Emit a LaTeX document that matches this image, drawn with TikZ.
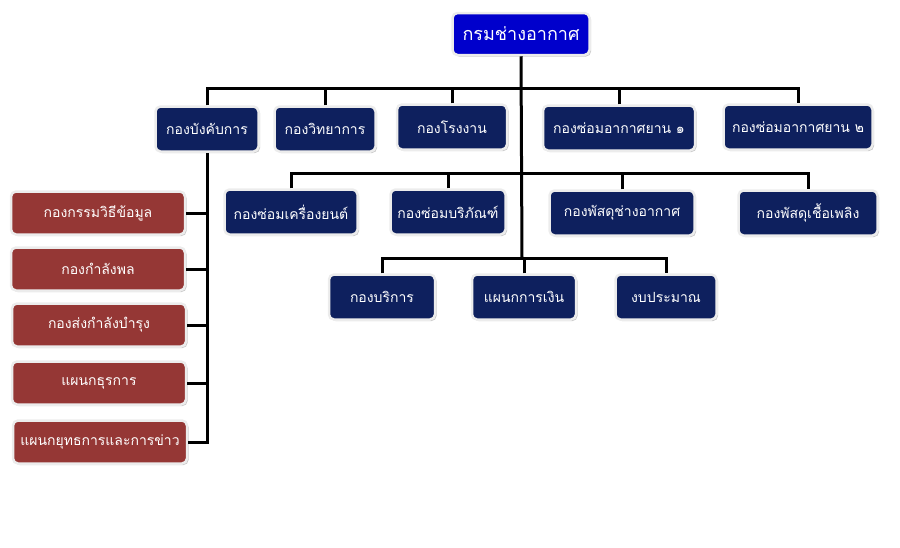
\documentclass[tikz,border=0pt]{standalone}
\usepackage{fontspec}
\newfontfamily\thaifont[Script=Thai]{Loma}
\usetikzlibrary{positioning, shadows}
\definecolor{navybox}{RGB}{14,32,94}
\definecolor{redbox}{RGB}{149,55,53}
\definecolor{topblue}{RGB}{0,0,204}
\tikzset{
    unitbox/.style={rectangle, rounded corners=5pt, fill=navybox, draw=white!85!gray, line width=2.5pt, text=white, minimum height=45pt, inner sep=2pt, font=\thaifont\fontsize{14}{16}\selectfont, drop shadow={shadow xshift=1.5pt, shadow yshift=-1.5pt, opacity=0.45}},
    staffbox/.style={unitbox, fill=redbox, minimum width=174pt, minimum height=43pt},
    headbox/.style={unitbox, fill=topblue, minimum width=137pt, minimum height=42pt, font=\thaifont\fontsize{18}{20}\selectfont},
    orgline/.style={line width=3pt, draw=black}
}

\begin{document}
\begin{tikzpicture}[x=1pt, y=-1pt]
    \useasboundingbox (0,0) rectangle (900,547);
    \node[headbox] (hq) at (521,34) {กรมช่างอากาศ};
    % first row
    \node[unitbox, minimum width=103pt] (bk) at (207,129) {กองบังคับการ};
    \node[unitbox, minimum width=101pt] (wy) at (325,129) {กองวิทยาการ};
    \node[unitbox, minimum width=110pt] (rg) at (452,127) {กองโรงงาน};
    \node[unitbox, minimum width=152pt] (sa1) at (619,128) {กองซ่อมอากาศยาน ๑};
    \node[unitbox, minimum width=149pt] (sa2) at (798,127) {กองซ่อมอากาศยาน ๒};
    % second row
    \node[unitbox, minimum width=133pt] (sk) at (291,212) {กองซ่อมเครื่องยนต์};
    \node[unitbox, minimum width=115pt] (sb) at (448,212) {กองซ่อมบริภัณฑ์};
    \node[unitbox, minimum width=145pt] (pc) at (622,213) {กองพัสดุช่างอากาศ};
    \node[unitbox, minimum width=139pt] (pf) at (808,213) {กองพัสดุเชื้อเพลิง};
    % third row
    \node[unitbox, minimum width=106pt] (br) at (382,297) {กองบริการ};
    \node[unitbox, minimum width=104pt] (fin) at (524,297) {แผนกการเงิน};
    \node[unitbox, minimum width=101pt] (bud) at (666,297) {งบประมาณ};
    % staff column
    \node[staffbox] (st1) at (98,213) {กองกรรมวิธีข้อมูล};
    \node[staffbox] (st2) at (98,269) {กองกำลังพล};
    \node[staffbox] (st3) at (99,325) {กองส่งกำลังบำรุง};
    \node[staffbox] (st4) at (99,383) {แผนกธุรการ};
    \node[staffbox] (st5) at (100,442) {แผนกยุทธการและการข่าว};

    \coordinate (bus1) at (522,88);
    \coordinate (bus2) at (522,173);
    \coordinate (bus3) at (522,258);

    % trunk and buses
    \draw[orgline] (hq.south) -- (bus3);
    \draw[orgline] (bk.north) |- (bus1) -| (sa2.north);
    \draw[orgline] (wy.north) -- (wy.north |- bus1);
    \draw[orgline] (rg.north) -- (rg.north |- bus1);
    \draw[orgline] (sa1.north) -- (sa1.north |- bus1);
    \draw[orgline] (sk.north) |- (bus2) -| (pf.north);
    \draw[orgline] (sb.north) -- (sb.north |- bus2);
    \draw[orgline] (pc.north) -- (pc.north |- bus2);
    \draw[orgline] (br.north) |- (bus3) -| (bud.north);
    \draw[orgline] (fin.north) -- (fin.north |- bus3);

    % staff line
    \draw[orgline] (bk.south) |- (st5.east);
    \foreach \s in {st1,st2,st3,st4}
        \draw[orgline] (\s.east) -- (\s.east -| bk.south);
\end{tikzpicture}
\end{document}
